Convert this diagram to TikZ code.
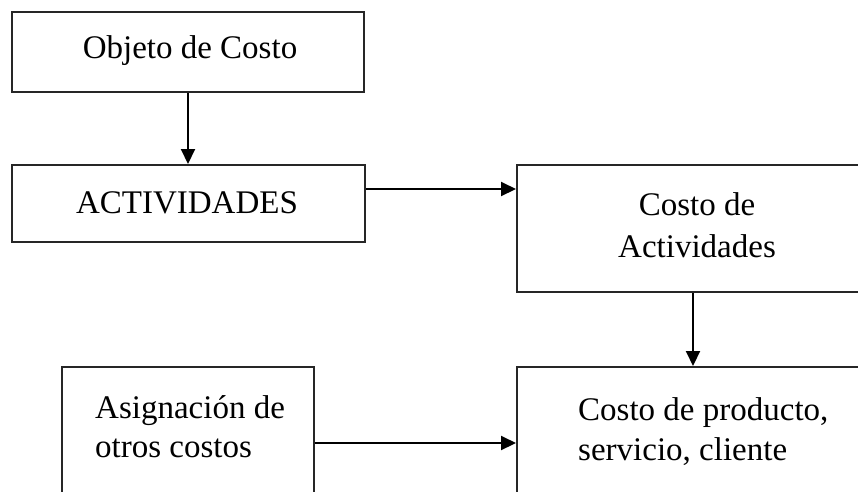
\documentclass[tikz,border=0pt]{standalone}
\usepackage{fontspec}
\setmainfont{Liberation Serif}
\usetikzlibrary{arrows.meta}
\tikzset{
  box/.style={draw=black!85, line width=2pt, rectangle, inner sep=0pt},
  lbl/.style={inner sep=0pt, font=\fontsize{33}{42}\selectfont},
  arr/.style={draw=black, line width=2pt, -{Triangle[length=15pt,width=14pt]}}
}
\begin{document}
\begin{tikzpicture}[x=1pt,y=-1pt]
\useasboundingbox (0,0) rectangle (858,491);
\clip (0,0) rectangle (858,491);
\fill[white] (0,0) rectangle (858,491);
% boxes
\node[box, minimum width=352pt, minimum height=80pt] (b1) at (188,52) {};
\node[box, minimum width=353pt, minimum height=77pt] (b2) at (188.5,203.5) {};
\node[box, minimum width=363pt, minimum height=127pt] (b3) at (698.5,228.5) {};
\node[box, minimum width=252pt, minimum height=153pt] (b4) at (188,443.5) {};
\node[box, minimum width=363pt, minimum height=153pt] (b5) at (698.5,443.5) {};
% texts
\node[lbl, anchor=base] (t1) at (190,58) {Objeto de Costo};
\node[lbl, anchor=base] (t2) at (187,213) {ACTIVIDADES};
\node[lbl, anchor=base] (t3a) at (697,215) {Costo de};
\node[lbl, anchor=base] (t3b) at (697,257) {Actividades};
\node[lbl, anchor=base west] (t4a) at (95,418) {Asignación de};
\node[lbl, anchor=base west] (t4b) at (95,457) {otros costos};
\node[lbl, anchor=base west] (t5a) at (578,420) {Costo de producto,};
\node[lbl, anchor=base west] (t5b) at (578,460) {servicio, cliente};
% helper coordinates
\coordinate (ya) at (0,189);
\coordinate (xa) at (693,0);
\coordinate (yb) at (0,443);
% connectors
\draw[arr] (b1.south) -- (b1.south |- b2.north);
\draw[arr] (b2.east |- ya) -- (b3.west |- ya);
\draw[arr] (b3.south -| xa) -- (b5.north -| xa);
\draw[arr] (b4.east |- yb) -- (b5.west |- yb);
\end{tikzpicture}
\end{document}
